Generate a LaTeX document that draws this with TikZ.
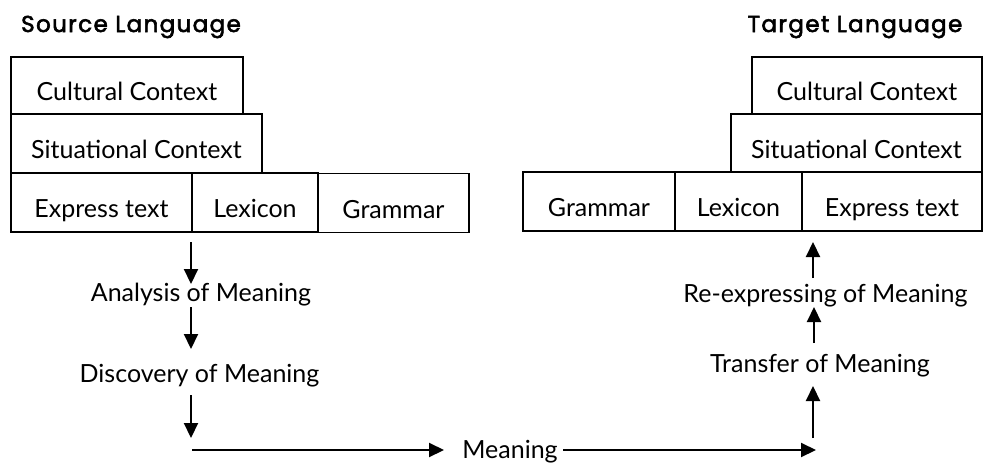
\documentclass[tikz,border=0pt]{standalone}
\usepackage{fontspec}
\setmainfont{Lato}
\newfontfamily\headfont[LetterSpace=6,FakeBold=2.5]{Poppins}
\usetikzlibrary{arrows.meta}
\begin{document}
\begin{tikzpicture}[x=1pt,y=-1pt,
  box/.style={draw, line width=1.4pt, inner sep=0pt, text height=30pt, text depth=0pt,
              font=\fontsize{25}{30}\selectfont},
  flow/.style={anchor=base, inner sep=0pt, font=\fontsize{25}{30}\selectfont},
  head/.style={anchor=base, inner sep=0pt, font=\headfont\fontsize{23}{27}\selectfont},
  arr/.style={-{Triangle[length=15pt,width=14pt]}, line width=2.1pt}]
\useasboundingbox (0,0) rectangle (983,466);

% headings
\node[head] (src) at (131,32) {Source Language};
\node[head] (tgt) at (855,32) {Target Language};

% source language boxes
\node[box, minimum width=232pt, minimum height=57pt] (lcc) at (127,85.5) {Cultural Context};
\node[box, minimum width=251pt, minimum height=59pt] (lsc) at (136.5,143.5) {Situational Context};
\node[box, minimum width=181pt, minimum height=59pt] (lex) at (101.5,202.5) {Express text};
\node[box, minimum width=126pt, minimum height=59pt] (llx) at (255,202.5) {Lexicon};
\node[box, minimum width=151pt, minimum height=59pt] (lgr) at (393.5,203) {Grammar};

% target language boxes
\node[box, minimum width=230pt, minimum height=57pt] (rcc) at (867,85.5) {Cultural Context};
\node[box, minimum width=251pt, minimum height=58pt] (rsc) at (856.5,143) {Situational Context};
\node[box, minimum width=152pt, minimum height=59pt] (rgr) at (599,201.5) {Grammar};
\node[box, minimum width=127pt, minimum height=59pt] (rlx) at (738.5,201.5) {Lexicon};
\node[box, minimum width=180pt, minimum height=59pt] (rex) at (892,201.5) {Express text};

% process labels
\node[flow] (an) at (201,301) {Analysis of Meaning};
\node[flow] (di) at (199.5,382) {Discovery of Meaning};
\node[flow] (me) at (510,458) {Meaning};
\node[flow] (tr) at (820,372) {Transfer of Meaning};
\node[flow] (re) at (825.5,302) {Re-expressing of Meaning};

% connector end points
\coordinate (a1s) at (191,242);  \coordinate (a1e) at (191,284);
\coordinate (a2s) at (191,307);  \coordinate (a2e) at (191,349);
\coordinate (a3s) at (191,395);  \coordinate (a3e) at (191,438);
\coordinate (h1s) at (192,450);  \coordinate (h1e) at (444,450);
\coordinate (h2s) at (563,450);  \coordinate (h2e) at (816,450);
\coordinate (b1s) at (813,438);  \coordinate (b1e) at (813,386);
\coordinate (b2s) at (814,343);  \coordinate (b2e) at (814,307);
\coordinate (b3s) at (813,278);  \coordinate (b3e) at (813,242);

% connectors
\draw[arr] (a1s) -- (a1e);
\draw[arr] (a2s) -- (a2e);
\draw[arr] (a3s) -- (a3e);
\draw[arr] (h1s) -- (h1e);
\draw[arr] (h2s) -- (h2e);
\draw[arr] (b1s) -- (b1e);
\draw[arr] (b2s) -- (b2e);
\draw[arr] (b3s) -- (b3e);
\end{tikzpicture}
\end{document}
